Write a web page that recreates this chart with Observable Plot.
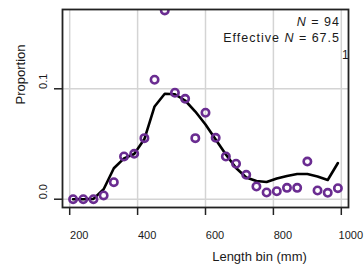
<!DOCTYPE html>
<html>
<head>
<meta charset="utf-8">
<script src="https://cdn.jsdelivr.net/npm/d3@7"></script>
<script src="https://cdn.jsdelivr.net/npm/@observablehq/plot@0.6"></script>
<style>
  html, body { margin: 0; padding: 0; background: #fff; }
  #chart { width: 364px; height: 264px; }
  svg { font-family: "Liberation Sans", Arial, sans-serif; }
</style>
</head>
<body>
<div id="chart"></div>
<script>
const bins = [210, 240, 270, 300, 330, 360, 390, 420, 450, 480, 510, 540, 570, 600, 630, 660, 690, 720, 750, 780, 810, 840, 870, 900, 930, 960, 990];
const observed = [0, 0, 0, 0.0034, 0.0154, 0.0387, 0.0411, 0.0553, 0.1082, 0.171, 0.0964, 0.0909, 0.0553, 0.0783, 0.0556, 0.0387, 0.0321, 0.0221, 0.0115, 0.0061, 0.0072, 0.0103, 0.0103, 0.0341, 0.0079, 0.0058, 0.0100];
const expected = [0, 0, 0.0003, 0.009, 0.028, 0.037, 0.041, 0.0545, 0.084, 0.0955, 0.095, 0.0894, 0.0794, 0.0677, 0.0541, 0.0405, 0.0283, 0.0197, 0.0165, 0.0156, 0.0188, 0.021, 0.0228, 0.0228, 0.0206, 0.0174, 0.0328];
const xTicks = [200, 400, 600, 800, 1000];
const yTicks = [0, 0.1];
const annotN = "N = 94";
const annotEff = "Effective N = 67.5";
const cornerLabel = "1";
const xTitle = "Length bin (mm)";
const yTitle = "Proportion";

const obsData = bins.map((b, i) => ({bin: b, value: observed[i]}));
const expData = bins.map((b, i) => ({bin: b, value: expected[i]}));

const purple = "#6a2c91";

const chart = Plot.plot({
  width: 364,
  height: 264,
  marginLeft: 62,
  marginRight: 16,
  marginTop: 9,
  marginBottom: 57,
  style: {fontFamily: "Liberation Sans, Arial, sans-serif", fontSize: "11px", color: "#1a1a1a", background: "#fff"},
  x: {domain: [178.8, 1021.2]},
  y: {domain: [-0.0075, 0.1718]},
  marks: [
    Plot.gridX(xTicks, {stroke: "#d4d4d4", strokeOpacity: 1, strokeWidth: 1.5}),
    Plot.gridY(yTicks, {stroke: "#d4d4d4", strokeOpacity: 1, strokeWidth: 1.5}),
    Plot.line(expData, {x: "bin", y: "value", stroke: "#000", strokeWidth: 2.6, clip: true}),
    Plot.dot(obsData, {x: "bin", y: "value", r: 3.7, stroke: purple, strokeWidth: 2.6, fill: "none", clip: true}),
    Plot.frame({stroke: "#222", strokeWidth: 1.8}),
    Plot.axisX(xTicks, {tickSize: 8, text: null, stroke: "#222", strokeWidth: 1.5, label: null}),
    Plot.text(xTicks, {x: d => d, text: d => d3.format("d")(d), frameAnchor: "bottom", dx: 9.5, dy: 28, textAnchor: "middle", lineAnchor: "middle", fontSize: 11}),
    Plot.axisY(yTicks, {tickSize: 8, text: null, stroke: "#222", strokeWidth: 1.5, label: null}),
    Plot.text(yTicks, {y: d => d, text: d => d3.format(".1f")(d), frameAnchor: "left", dx: -19, dy: -7.5, rotate: -90, textAnchor: "middle", lineAnchor: "middle", fontSize: 11}),
    Plot.text([yTitle], {text: d => d, frameAnchor: "top-left", dx: -42, dy: 65, rotate: -90, textAnchor: "middle", lineAnchor: "middle", fontSize: 13}),
    Plot.text([xTitle], {text: d => d, frameAnchor: "bottom", dx: 54, dy: 49, textAnchor: "middle", lineAnchor: "middle", fontSize: 13}),
    Plot.text([annotN], {text: d => d, frameAnchor: "top-right", dx: -8.5, dy: 12.7, textAnchor: "end", lineAnchor: "middle", fontSize: 12.5, className: "annot"}),
    Plot.text([annotEff], {text: d => d, frameAnchor: "top-right", dx: -8.5, dy: 28.3, textAnchor: "end", lineAnchor: "middle", fontSize: 12.5, className: "annot"}),
    Plot.text([cornerLabel], {text: d => d, frameAnchor: "top-right", dx: -6.5, dy: 46, textAnchor: "start", lineAnchor: "middle", fontSize: 12})
  ]
});

document.getElementById("chart").appendChild(chart);

// italicise the N in the annotations
d3.select(chart).selectAll("g.annot text").each(function() {
  const t = this.textContent;
  const idx = t.indexOf("N =");
  if (idx < 0) return;
  const el = d3.select(this);
  el.text(null);
  el.style("letter-spacing", "1px");
  if (idx > 0) el.append("tspan").text(t.slice(0, idx));
  el.append("tspan").attr("font-style", "italic").text("N");
  el.append("tspan").text(t.slice(idx + 1));
});
</script>
</body>
</html>
